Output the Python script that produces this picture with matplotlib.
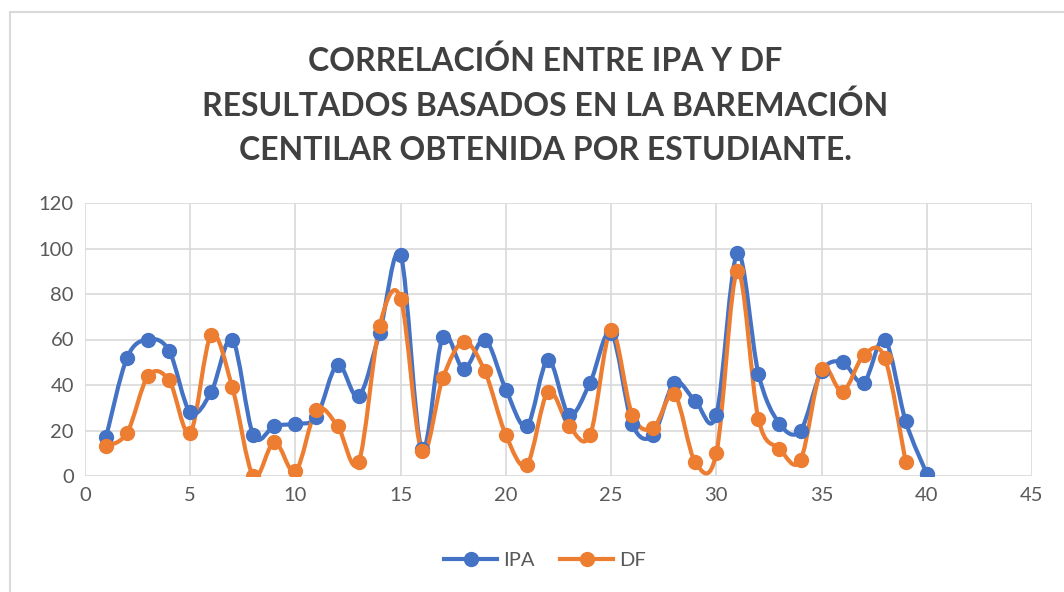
import numpy as np
import matplotlib.pyplot as plt
from matplotlib.path import Path
from matplotlib.patches import PathPatch, Rectangle

# data
students_ipa = list(range(1, 41))
ipa = [17, 52, 60, 55, 28, 37, 60, 18, 22, 23, 26, 49, 35, 63, 97, 12, 61, 47, 60, 38,
       22, 51, 27, 41, 63, 23, 18, 41, 33, 27, 98, 45, 23, 20, 46, 50, 41, 60, 24, 1]
students_df = list(range(1, 40))
df = [13, 19, 44, 42, 19, 62, 39, 0, 15, 2, 29, 22, 6, 66, 78, 11, 43, 59, 46, 18,
      5, 37, 22, 18, 64, 27, 21, 36, 6, 10, 90, 25, 12, 7, 47, 37, 53, 52, 6]

title = ("CORRELACIÓN ENTRE IPA Y DF\n"
         "RESULTADOS BASADOS EN LA BAREMACIÓN\n"
         "CENTILAR OBTENIDA POR ESTUDIANTE.")

blue = '#4472C4'
orange = '#ED7D31'
grey_txt = '#595959'


def smooth_path(x, y):
    # excel style smoothed line: cubic bezier through every point
    pts = np.column_stack([x, y]).astype(float)
    p = np.vstack([pts[0], pts, pts[-1]])
    verts = [pts[0]]
    codes = [Path.MOVETO]
    for i in range(1, len(p) - 2):
        c1 = p[i] + (p[i + 1] - p[i - 1]) / 6
        c2 = p[i + 1] - (p[i + 2] - p[i]) / 6
        verts += [c1, c2, p[i + 1]]
        codes += [Path.CURVE4] * 3
    return Path(verts, codes)


fig = plt.figure(figsize=(10.64, 5.92), dpi=100)
fig.patches.append(Rectangle((10 / 1064, -0.1), 1.2, 1 - 12 / 592 + 0.1,
                             transform=fig.transFigure, fill=False,
                             edgecolor='#d9d9d9', linewidth=1.5))
ax = fig.add_axes([85 / 1064, 1 - 476 / 592, (1032 - 85) / 1064, (476 - 203) / 592])

for xs, ys, c, lab in [(students_ipa, ipa, blue, 'IPA'), (students_df, df, orange, 'DF')]:
    ax.add_patch(PathPatch(smooth_path(xs, ys), fill=False, edgecolor=c,
                           linewidth=3, capstyle='round', joinstyle='round', zorder=3))
    ax.plot(xs, ys, linestyle='none', marker='o', markersize=10, color=c, zorder=4)
    ax.plot([], [], color=c, linewidth=3, marker='o', markersize=10, label=lab)

ax.set_xlim(0, 45)
ax.set_ylim(0, 120)
ax.set_xticks(range(0, 46, 5))
ax.set_yticks(range(0, 121, 20))
ax.grid(True, color='#d9d9d9', linewidth=1.2)
ax.set_axisbelow(True)
for s in ax.spines.values():
    s.set_visible(False)
ax.tick_params(length=0, labelsize=14.5, labelcolor=grey_txt, pad=8)
for lbl in ax.get_xticklabels() + ax.get_yticklabels():
    lbl.set_fontfamily('Lato')

fig.text(545 / 1064, 1 - 105 / 592, title, ha='center', va='center',
         fontsize=23, fontweight='bold', color='#404040', family='Lato',
         linespacing=1.6)

fig.legend(loc='center', bbox_to_anchor=(545 / 1064, 1 - 560 / 592), ncol=2,
           frameon=False, prop={'family': 'Lato', 'size': 14.5}, labelcolor=grey_txt,
           handlelength=2.6, columnspacing=1.3, handletextpad=0.3)

fig.savefig('out.png', dpi=100)
